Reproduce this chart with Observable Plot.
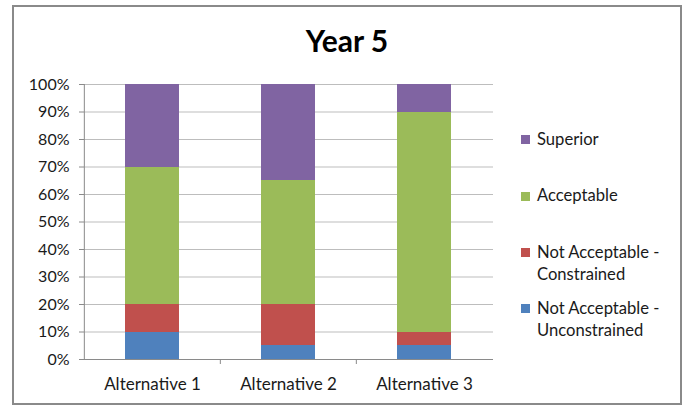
<!DOCTYPE html>
<html>
<head>
<meta charset="utf-8">
<script src="https://cdn.jsdelivr.net/npm/d3@7"></script>
<script src="https://cdn.jsdelivr.net/npm/@observablehq/plot@0.6"></script>
<style>
  html, body { margin: 0; padding: 0; background: #fff; }
  #chart { position: relative; width: 683px; height: 406px; font-family: Lato, "Noto Sans", sans-serif; color: #1a1a1a; }
  #frame { position: absolute; left: 12px; top: 5px; width: 666px; height: 396px; border: 2px solid #8a8a8a; }
  #title { position: absolute; left: 247px; top: 25px; width: 200px; text-align: center; font-weight: bold; font-size: 30px; line-height: 30px; color: #000; }
  #plot { position: absolute; left: 0; top: 0; }
  .leg { position: absolute; left: 537px; font-size: 16.6px; line-height: 22px; white-space: nowrap; }
  .sw { position: absolute; left: 521px; width: 9px; height: 9px; }
</style>
</head>
<body>
<div id="chart">
  <div id="frame"></div>
  <div id="title">Year 5</div>
  <div id="plot"></div>
</div>
<script>
const categories = ["Alternative 1", "Alternative 2", "Alternative 3"];
const series = ["Not Acceptable - Unconstrained", "Not Acceptable - Constrained", "Acceptable", "Superior"];
const unconstrained = [0.10, 0.05, 0.05];
const constrained = [0.10, 0.15, 0.05];
const acceptable = [0.50, 0.45, 0.80];
const superior = [0.30, 0.35, 0.10];
const colors = ["#4F81BD", "#C0504D", "#9BBB59", "#8064A2"];
const yTicks = [0, 0.1, 0.2, 0.3, 0.4, 0.5, 0.6, 0.7, 0.8, 0.9, 1.0];

const valuesBySeries = [unconstrained, constrained, acceptable, superior];
const data = [];
series.forEach((s, si) => {
  categories.forEach((c, ci) => data.push({alt: c, series: s, value: valuesBySeries[si][ci]}));
});

const W = 683, H = 406;
const mL = 84, mR = 190, mT = 84, mB = 47;
const step = (W - mL - mR) / categories.length;

const plot = Plot.plot({
  width: W,
  height: H,
  marginLeft: mL,
  marginRight: mR,
  marginTop: mT,
  marginBottom: mB,
  style: {background: "transparent", fontFamily: "Lato, 'Noto Sans', sans-serif", fontSize: "16px", color: "#1a1a1a"},
  x: {domain: categories, paddingInner: 0.6, paddingOuter: 0.3, label: null},
  y: {domain: [0, 1], label: null},
  color: {domain: series, range: colors},
  marks: [
    Plot.gridY(yTicks, {stroke: "#bdbdbd", strokeOpacity: 1}),
    Plot.barY(data, {x: "alt", y: "value", fill: "series", shapeRendering: "crispEdges"}),
    Plot.ruleY([0], {stroke: "#8a8a8a"}),
    Plot.ruleX([categories[0]], {x: d => d, dx: -step / 2, stroke: "#8a8a8a"}),
    Plot.ruleX(categories.slice(1), {x: d => d, dx: -step / 2, y1: 0, y2: 0, insetBottom: -5, stroke: "#8a8a8a"}),
    Plot.axisY(yTicks, {tickFormat: d3.format(".0%"), tickSize: 5, tickPadding: 10, stroke: "#8a8a8a", fill: "#1a1a1a"}),
    Plot.axisX({tickSize: 0, tickPadding: 18, fill: "#1a1a1a", fontSize: 17})
  ]
});
document.getElementById("plot").appendChild(plot);

// legend (top to bottom: reverse of stacking order)
const chart = document.getElementById("chart");
const legendOrder = series.map((s, i) => ({s, c: colors[i]})).reverse();
legendOrder.forEach((d, i) => {
  const top = 128 + i * 56.3;
  const baseline = top + 17.4;
  const sw = document.createElement("div");
  sw.className = "sw";
  sw.style.top = (baseline - 10) + "px";
  sw.style.background = d.c;
  chart.appendChild(sw);
  const t = document.createElement("div");
  t.className = "leg";
  t.style.top = top + "px";
  const parts = d.s.split(" - ");
  t.innerHTML = parts.length > 1 ? parts[0] + " -<br>" + parts[1] : d.s;
  chart.appendChild(t);
});
</script>
</body>
</html>
